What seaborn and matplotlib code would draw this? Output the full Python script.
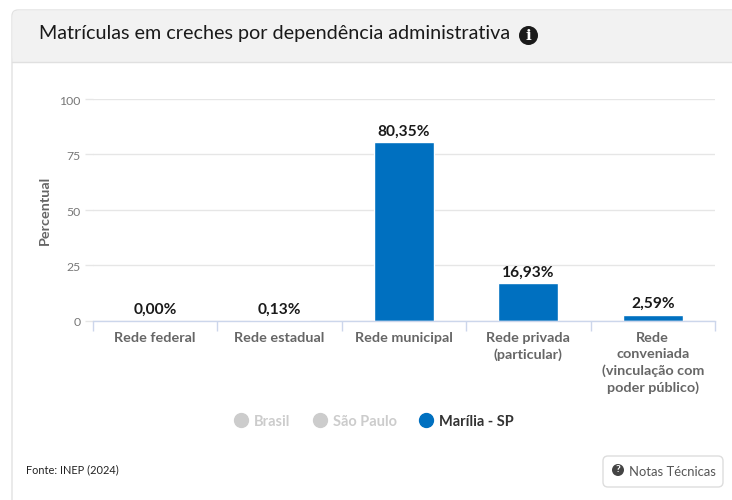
import matplotlib
matplotlib.use("Agg")
import matplotlib.pyplot as plt
from matplotlib.lines import Line2D
from matplotlib.patches import Circle, FancyBboxPatch, Rectangle
from matplotlib.transforms import ScaledTranslation
import pandas as pd
import seaborn as sns

categories = ["Rede federal", "Rede estadual", "Rede municipal",
              "Rede privada\n(particular)",
              "Rede\nconveniada\n(vinculação com\npoder público)"]
values = [0.00, 0.13, 80.35, 16.93, 2.59]
value_labels = ["0,00%", "0,13%", "80,35%", "16,93%", "2,59%"]
y_ticks = [0, 25, 50, 75, 100]
legend_names = ["Brasil", "São Paulo", "Marília - SP"]
legend_colors = ["#cccccc", "#cccccc", "#0070c0"]
legend_text_colors = ["#cccccc", "#cccccc", "#333333"]

W, H = 732, 500
sns.set_theme(style="white")
plt.rcParams["font.family"] = ["Lato", "DejaVu Sans"]

fig = plt.figure(figsize=(W / 100, H / 100), dpi=100, facecolor="white")

# Page-level layer in pixel coordinates for the card, header and button
page = fig.add_axes([0, 0, 1, 1], zorder=0)
page.set_xlim(0, W)
page.set_ylim(H, 0)
page.axis("off")
page.add_patch(FancyBboxPatch((12, 10), 760, 560, boxstyle="round,pad=0,rounding_size=6",
                              fc="white", ec="#e2e2e2", lw=1.0))
page.add_patch(FancyBboxPatch((12.5, 10.5), 760, 52, boxstyle="round,pad=0,rounding_size=6",
                              fc="#f2f2f2", ec="none"))
page.add_patch(Rectangle((12.5, 40), 760, 22, fc="#f2f2f2", ec="none"))
page.plot([12, 732], [62, 62], color="#e0e0e0", lw=1.0)
page.text(39, 33, "Matrículas em creches por dependência administrativa",
          fontsize=14.25, color="#1a1a1a", va="center", ha="left")
page.add_patch(Circle((528.5, 35.5), 9.5, fc="#1a1a1a", ec="none"))
page.text(528.5, 35.5, "i", color="white", fontsize=11, fontweight="bold",
          family="DejaVu Serif", ha="center", va="center")
page.text(26, 470, "Fonte: INEP (2024)", fontsize=7.9, color="#222222", va="center")
page.add_patch(FancyBboxPatch((603, 456), 120, 31, boxstyle="round,pad=0,rounding_size=5",
                              fc="white", ec="#dddddd", lw=1))
page.add_patch(Circle((618, 470), 6, fc="#444444", ec="none"))
page.text(618, 470, "?", color="white", fontsize=7.5, fontweight="bold", ha="center", va="center")
page.text(629, 471.5, "Notas Técnicas", fontsize=9.4, color="#555555", va="center")

# Plot area spans x 93-715 px and y 98.5-320.5 px
ax = fig.add_axes([93 / W, 1 - 320.5 / H, 622 / W, 222 / H], zorder=1)
ax.patch.set_alpha(0)
data = pd.DataFrame({"categoria": categories, "percentual": values})
sns.barplot(data=data, x="categoria", y="percentual", color="#0070c0", saturation=1,
            width=0.482, ax=ax)
ax.set_xlim(-0.5, 4.5)
ax.set_ylim(0, 100)
ax.set_yticks(y_ticks)
ax.grid(axis="y", color="#e6e6e6", lw=1)
ax.set_axisbelow(True)
sns.despine(ax=ax, left=True, top=True, right=True)
ax.spines["bottom"].set_color("#ccd6eb")
ax.spines["bottom"].set_linewidth(1)

ax.tick_params(axis="y", left=True, length=6, width=1, color="#e6e6e6", labelcolor="#777777",
               labelsize=8.8, pad=3)
# Numbers sit slightly below their gridlines
nudge = ScaledTranslation(0, -1.5 / 100, fig.dpi_scale_trans)
for tick_label in ax.get_yticklabels():
    tick_label.set_transform(tick_label.get_transform() + nudge)
ax.tick_params(axis="x", which="major", bottom=False, length=0, labelsize=10.4,
               labelcolor="#666666", pad=8)
ax.set_xticks(range(len(categories)))
ax.set_xticklabels(categories, fontweight="bold", linespacing=1.42)
ax.set_xticks([i - 0.5 for i in range(len(categories) + 1)], minor=True)
ax.tick_params(axis="x", which="minor", bottom=True, length=7, width=1, color="#ccd6eb")
ax.set_xlabel("")
ax.set_ylabel("Percentual", fontsize=10.4, fontweight="bold", color="#666666")
ax.yaxis.set_label_coords(-0.0675, 0.498)

for i, (v, lab) in enumerate(zip(values, value_labels)):
    ax.annotate(lab, (i, v), xytext=(0, 2.5), textcoords="offset points", ha="center",
                va="bottom", fontsize=11.2, fontweight="bold", color="#1a1a1a")

handles = [Line2D([], [], ls="", marker="o", ms=10, mfc=c, mec=c) for c in legend_colors]
legend = fig.legend(handles, legend_names, loc="center", bbox_to_anchor=(370 / W, 1 - 421.5 / H),
                    ncol=3, frameon=False, handletextpad=-0.1, columnspacing=0.99,
                    prop={"size": 10.5, "weight": "bold"})
for text, color in zip(legend.get_texts(), legend_text_colors):
    text.set_color(color)

fig.savefig("out.png", dpi=100)
